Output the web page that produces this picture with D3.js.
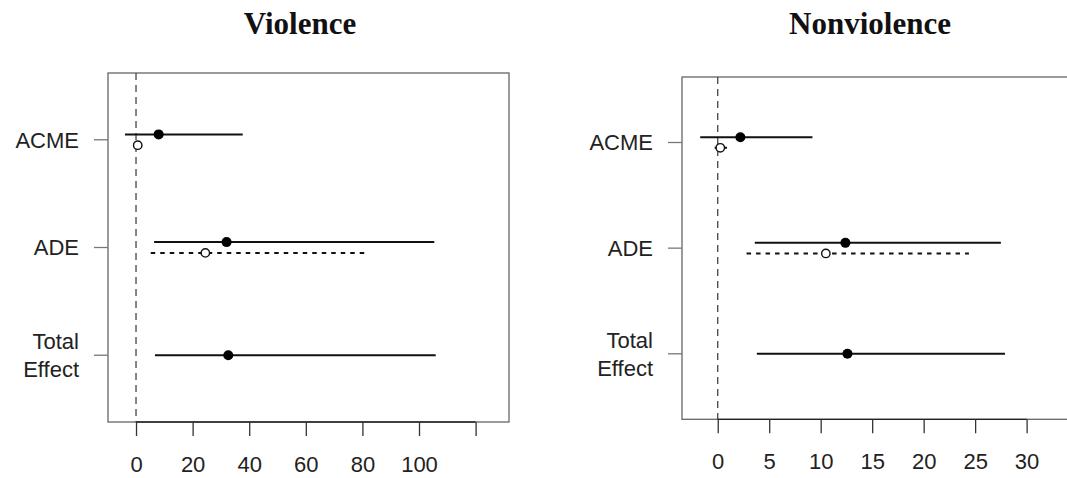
<!DOCTYPE html>
<meta charset="utf-8">
<style>
    body { margin: 0; background: #fff; }
    .title { font: bold 31px "Liberation Serif", serif; fill: #111; text-anchor: middle; }
    .lab { font: 22px "Liberation Sans", Arial, sans-serif; fill: #222; }
</style>
<svg id="chart" width="1067" height="478"></svg>
<script src="https://d3js.org/d3.v7.min.js"></script>
<script>

    // effects, top to bottom
    var effects = ["ACME", "ADE", "Total Effect"];

    // Violence panel: [estimate, lower, upper]
    var violenceSolid = [[8.0, -3.9, 37.7], [32.0, 6.4, 105.4], [32.6, 6.7, 105.9]];
    var violenceOpen = [[0.6, -0.3, 1.2], [24.5, 5.2, 81.9]];
    var violenceTicks = [0, 20, 40, 60, 80, 100, 120];
    var violenceLabels = ["0", "20", "40", "60", "80", "100", ""];

    // Nonviolence panel
    var nonviolenceSolid = [[2.2, -1.7, 9.2], [12.4, 3.6, 27.5], [12.6, 3.8, 27.9]];
    var nonviolenceOpen = [[0.25, -0.3, 0.9], [10.5, 2.8, 24.4]];
    var nonviolenceTicks = [0, 5, 10, 15, 20, 25, 30];
    var nonviolenceLabels = ["0", "5", "10", "15", "20", "25", "30"];

    var svg = d3.select("#chart");

    var panels = [
        { title: "Violence", solid: violenceSolid, open: violenceOpen, ticks: violenceTicks, labels: violenceLabels,
          xdom: [-9.9, 131.8], left: 108, right: 509, top: 73, bottom: 422, titleX: 300 },
        { title: "Nonviolence", solid: nonviolenceSolid, open: nonviolenceOpen, ticks: nonviolenceTicks, labels: nonviolenceLabels,
          xdom: [-3.47, 34.7], left: 682, right: 1075, top: 77, bottom: 419.3, titleX: 870 }
    ];

    panels.forEach(function(p) {
        var x = d3.scaleLinear().domain(p.xdom).range([p.left, p.right]);
        var y = d3.scaleLinear().domain([0.38, 3.62]).range([p.top, p.bottom]);
        var off = 0.05;
        var g = svg.append("g");

        g.append("text").attr("class", "title")
            .attr("x", p.titleX).attr("y", 34).text(p.title);

        // box
        g.append("rect")
            .attr("x", p.left).attr("y", p.top)
            .attr("width", p.right - p.left).attr("height", p.bottom - p.top)
            .attr("fill", "none").attr("stroke", "#666").attr("stroke-width", 1.3);

        // zero line
        g.append("line")
            .attr("x1", x(0)).attr("x2", x(0))
            .attr("y1", p.top).attr("y2", p.bottom)
            .attr("stroke", "#444").attr("stroke-width", 1.3)
            .attr("stroke-dasharray", "7,5");

        // x axis
        var xAxis = d3.axisBottom(x)
            .tickValues(p.ticks)
            .tickSize(14)
            .tickPadding(20)
            .tickFormat(function(d, i) { return p.labels[i]; });
        var ax = g.append("g")
            .attr("transform", "translate(0," + p.bottom + ")")
            .call(xAxis);
        ax.select(".domain").attr("d", "M" + x(p.ticks[0]) + ",0H" + x(p.ticks[p.ticks.length - 1]))
            .attr("stroke", "#222").attr("stroke-width", 1.3);
        ax.selectAll(".tick line").attr("stroke", "#333").attr("stroke-width", 1.3);
        ax.selectAll(".tick text").attr("class", "lab").attr("fill", "#222").attr("dy", "0.71em")
            .style("font-size", "22px").style("font-family", "Liberation Sans, Arial, sans-serif");

        // y ticks and labels
        effects.forEach(function(e, i) {
            var yy = y(i + 1);
            g.append("line")
                .attr("x1", p.left - 14).attr("x2", p.left)
                .attr("y1", yy).attr("y2", yy)
                .attr("stroke", "#777").attr("stroke-width", 1.3);
            var words = e === "Total Effect" ? ["Total", "Effect"] : [e];
            words.forEach(function(w, k) {
                g.append("text").attr("class", "lab")
                    .attr("text-anchor", "end")
                    .attr("x", p.left - 29)
                    .attr("y", yy + (k - (words.length - 1) / 2) * 28)
                    .attr("dy", "0.36em")
                    .text(w);
            });
        });

        // solid intervals
        p.solid.forEach(function(d, i) {
            var yy = i < p.open.length ? y(i + 1 - off) : y(i + 1);
            g.append("line")
                .attr("x1", x(d[1])).attr("x2", x(d[2]))
                .attr("y1", yy).attr("y2", yy)
                .attr("stroke", "#111").attr("stroke-width", 2);
            g.append("circle")
                .attr("cx", x(d[0])).attr("cy", yy).attr("r", 5)
                .attr("fill", "#000");
        });

        // open intervals
        p.open.forEach(function(d, i) {
            var yy = y(i + 1 + off);
            g.append("line")
                .attr("x1", x(d[1])).attr("x2", x(d[2]))
                .attr("y1", yy).attr("y2", yy)
                .attr("stroke", "#111").attr("stroke-width", 2)
                .attr("stroke-dasharray", "4.5,5");
            g.append("circle")
                .attr("cx", x(d[0])).attr("cy", yy).attr("r", 4.2)
                .attr("fill", "#fff").attr("stroke", "#111").attr("stroke-width", 1.4);
        });
    });

</script>
